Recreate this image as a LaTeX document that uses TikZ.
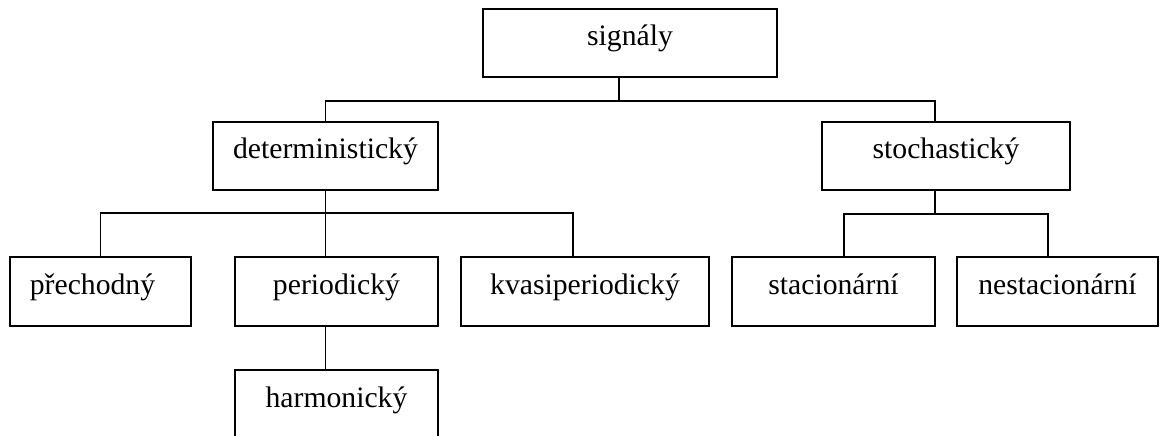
\documentclass[tikz,border=0pt]{standalone}
\usepackage{fontspec}
\setmainfont{Liberation Serif}

\begin{document}
\begin{tikzpicture}[x=1pt,y=-1pt,line width=1.9pt,
		box/.style={draw,rectangle,minimum height=68pt,inner sep=0pt,
			text height=20.5pt,text depth=15pt,
			font=\fontsize{29.7pt}{36pt}\selectfont}]
		\clip (0,0) rectangle (1160,436);
		
		\node[box,minimum width=294pt] (a) at (630,43) {signály};
		\node[box,minimum width=225pt] (b) at (325.5,156) {deterministický};
		\node[box,minimum width=248pt] (c) at (946,156) {stochastický};
		\node[box,minimum width=181pt,minimum height=69pt] (d) at (100.5,291.5) {přechodný\hspace*{16pt}};
		\node[box,minimum width=203pt,minimum height=69pt] (e) at (336.5,291.5) {periodický};
		\node[box,minimum width=248pt,minimum height=69pt] (f) at (585,291.5) {kvasiperiodický};
		\node[box,minimum width=203pt,minimum height=69pt] (g) at (336.5,404.5) {harmonický};
		\node[box,minimum width=203pt,minimum height=69pt] (h) at (833.5,291.5) {stacionární};
		\node[box,minimum width=201pt,minimum height=69pt] (i) at (1057.5,291.5) {nestacionární};
		
		% signaly
		\draw ([xshift=-11pt]a.south) -- ++(0,23) -| (b.north);
		\draw ([xshift=-11pt]a.south) -- ++(0,23) -| ([xshift=-11pt]c.north);
		
		% deterministicky
		\draw (b.south) -- ++(0,22) -| (d.north);
		\draw (b.south) -- ++(0,22) -| ([xshift=-12pt]f.north);
		\draw (b.south) -- ([xshift=-11pt]e.north);
		\draw ([xshift=-11pt]e.south) -- ([xshift=-11pt]g.north);
		
		% stochasticky
		\draw ([xshift=-11pt]c.south) -- ++(0,23) -| ([xshift=10.5pt]h.north);
		\draw ([xshift=-11pt]c.south) -- ++(0,23) -| ([xshift=-9.5pt]i.north);
	\end{tikzpicture}
\end{document}
